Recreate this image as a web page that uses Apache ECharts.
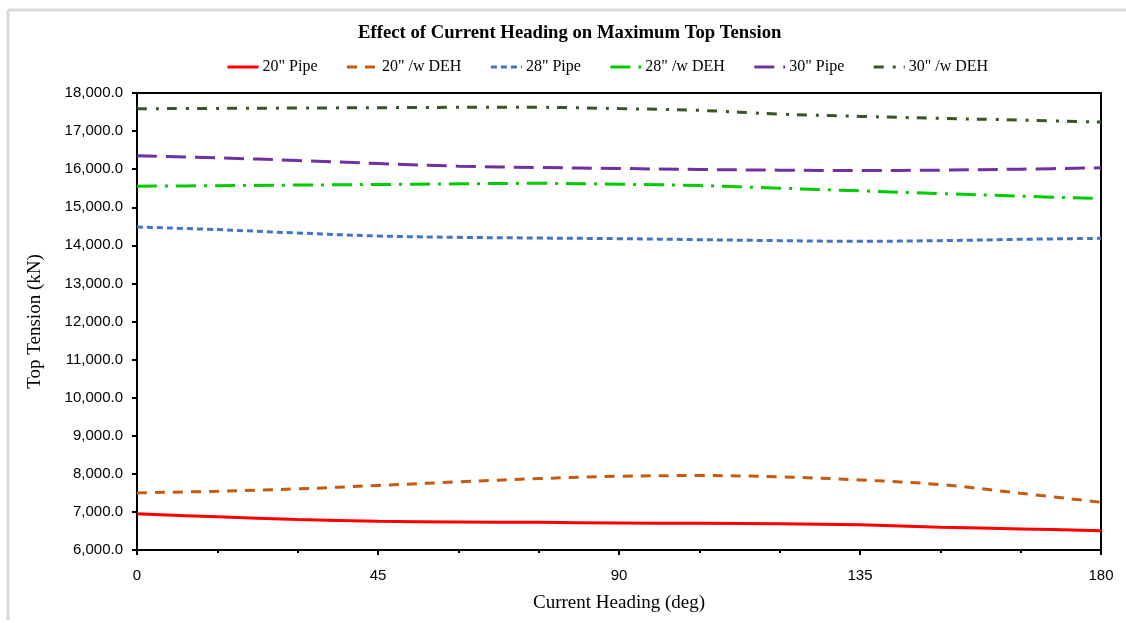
<!DOCTYPE html>
<html>
<head>
<meta charset="utf-8">
<script src="https://cdn.jsdelivr.net/npm/echarts@6/dist/echarts.min.js"></script>
<style>
  html, body { margin: 0; padding: 0; background: #fff; }
  #chart { width: 1126px; height: 623px; }
</style>
</head>
<body>
<div id="chart"></div>
<script>
// Current heading (deg) at which top tension was evaluated
const headings = [0, 15, 30, 45, 60, 75, 90, 105, 120, 135, 150, 165, 180];

// Maximum top tension (kN) per riser configuration
const pipe20    = [6950, 6870, 6800, 6755, 6737, 6726, 6710, 6700, 6692, 6660, 6600, 6553, 6508];
const pipe20DEH = [7500, 7542, 7605, 7695, 7789, 7876, 7937, 7955, 7921, 7840, 7718, 7490, 7253];
const pipe28    = [14482, 14413, 14324, 14245, 14210, 14192, 14175, 14149, 14123, 14105, 14123, 14158, 14184];
const pipe28DEH = [15553, 15565, 15582, 15598, 15614, 15628, 15605, 15570, 15500, 15430, 15360, 15290, 15228];
const pipe30    = [16350, 16297, 16228, 16149, 16079, 16044, 16018, 15992, 15974, 15965, 15974, 16000, 16035];
const pipe30DEH = [17587, 17596, 17605, 17614, 17623, 17623, 17590, 17544, 17447, 17386, 17333, 17289, 17237];

const seriesNames = ['20" Pipe', '20" /w DEH', '28" Pipe', '28" /w DEH', '30" Pipe', '30" /w DEH'];

const yTicks = { min: 6000, max: 18000, step: 1000 };
const xTicks = { min: 0, max: 180, step: 45 };

const serif = 'Liberation Serif, Times New Roman, serif';
const sans = 'Liberation Sans, Arial, sans-serif';

function pairs(vals) {
  return headings.map((h, i) => [h, vals[i]]);
}

function lineSeries(name, vals, color, dash) {
  return {
    name: name,
    type: 'line',
    data: pairs(vals),
    smooth: 0.35,
    symbol: 'none',
    showSymbol: false,
    lineStyle: { color: color, width: 3, type: dash, cap: 'butt' },
    itemStyle: { color: color },
    emphasis: { disabled: true },
    z: 3
  };
}

const chart = echarts.init(document.getElementById('chart'), null, { renderer: 'canvas' });

chart.setOption({
  backgroundColor: '#ffffff',
  animation: false,
  title: {
    text: 'Effect of Current Heading on Maximum Top Tension',
    left: 353,
    top: 19,
    textStyle: { fontFamily: serif, fontSize: 18.7, fontWeight: 'bold', color: '#000' }
  },
  legend: {
    data: seriesNames,
    top: 54,
    left: 221,
    itemWidth: 31,
    itemHeight: 14,
    itemGap: 28,
    itemStyle: { opacity: 0 },
    lineStyle: { width: 3 },
    textStyle: { fontFamily: serif, fontSize: 16, color: '#000', padding: [0, 0, 0, -1] }
  },
  grid: {
    left: 137, right: 25, top: 93, bottom: 73,
    show: true, borderColor: '#000', borderWidth: 2
  },
  xAxis: {
    type: 'value',
    min: xTicks.min, max: xTicks.max, interval: xTicks.step,
    name: 'Current Heading (deg)',
    nameLocation: 'middle',
    nameGap: 44,
    nameTextStyle: { fontFamily: serif, fontSize: 19, color: '#000' },
    axisLine: { show: true, lineStyle: { color: '#000', width: 2 } },
    axisTick: { show: true, length: 5, lineStyle: { color: '#000', width: 2 } },
    minorTick: { show: true, splitNumber: 3, length: 3, lineStyle: { color: '#000', width: 2 } },
    splitLine: { show: false },
    axisLabel: { fontFamily: sans, fontSize: 15, color: '#000', margin: 18 }
  },
  yAxis: {
    type: 'value',
    min: yTicks.min, max: yTicks.max, interval: yTicks.step,
    name: 'Top Tension (kN)',
    nameLocation: 'middle',
    nameGap: 92,
    nameTextStyle: { fontFamily: serif, fontSize: 19, color: '#000' },
    axisLine: { show: true, lineStyle: { color: '#000', width: 2 } },
    axisTick: { show: true, length: 5, lineStyle: { color: '#000', width: 2 } },
    splitLine: { show: false },
    axisLabel: {
      fontFamily: sans, fontSize: 15, color: '#000', margin: 14,
      formatter: v => v.toLocaleString('en-US', { minimumFractionDigits: 1, maximumFractionDigits: 1 })
    }
  },
  graphic: [
    { type: 'line', shape: { x1: 8, y1: 10, x2: 1126, y2: 10 }, style: { stroke: '#d9d9d9', lineWidth: 3 }, silent: true },
    { type: 'line', shape: { x1: 8, y1: 10, x2: 8, y2: 620 }, style: { stroke: '#d9d9d9', lineWidth: 3 }, silent: true }
  ],
  series: [
    lineSeries(seriesNames[0], pipe20, '#ff0000', 'solid'),
    lineSeries(seriesNames[1], pipe20DEH, '#c55a11', [10, 8]),
    lineSeries(seriesNames[2], pipe28, '#4472c4', [6, 4]),
    lineSeries(seriesNames[3], pipe28DEH, '#00cc00', [20, 8, 3, 8]),
    lineSeries(seriesNames[4], pipe30, '#7030a0', [20, 9]),
    lineSeries(seriesNames[5], pipe30DEH, '#375623', [10, 9, 3, 8])
  ]
});
</script>
</body>
</html>
